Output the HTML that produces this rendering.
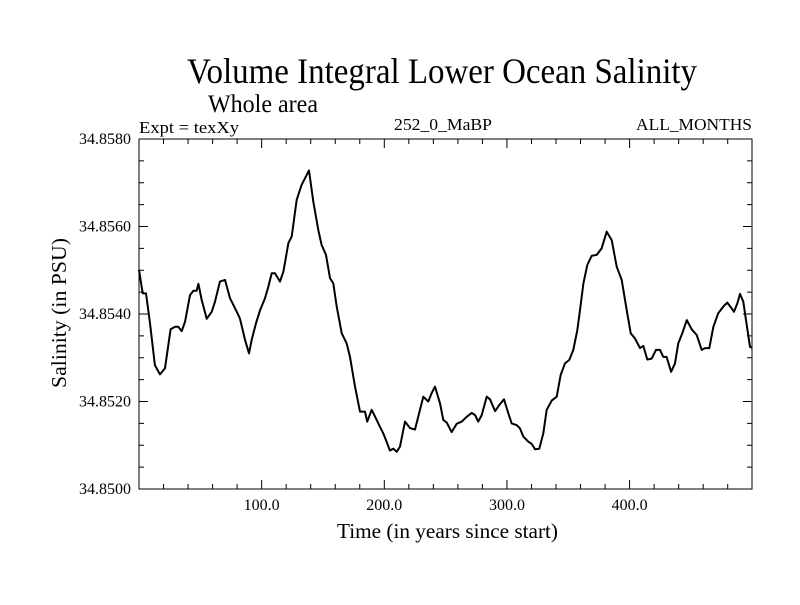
<!DOCTYPE html>
<html><head><meta charset="utf-8"><style>
body{margin:0;background:#fff}
svg text{font-family:"Liberation Serif",serif;fill:#000}
</style></head><body>
<svg id="chart" width="800" height="600" viewBox="0 0 800 600" xmlns="http://www.w3.org/2000/svg">
<rect width="800" height="600" fill="#fff"/>
<text x="187" y="83" font-size="36" textLength="510" lengthAdjust="spacingAndGlyphs">Volume Integral Lower Ocean Salinity</text>
<text x="208" y="112" font-size="25" textLength="110" lengthAdjust="spacingAndGlyphs">Whole area</text>
<text x="139" y="133" font-size="17" textLength="100" lengthAdjust="spacingAndGlyphs">Expt = texXy</text>
<text x="394" y="130" font-size="17" textLength="98" lengthAdjust="spacingAndGlyphs">252_0_MaBP</text>
<text x="636" y="130" font-size="17" textLength="116" lengthAdjust="spacingAndGlyphs">ALL_MONTHS</text>
<text x="337" y="538" font-size="21" textLength="221" lengthAdjust="spacingAndGlyphs">Time (in years since start)</text>
<text x="0" y="0" font-size="21" text-anchor="middle" textLength="150" lengthAdjust="spacingAndGlyphs" transform="translate(66,313) rotate(-90)">Salinity (in PSU)</text>
<g id="axes"></g>
<path id="series" fill="none" stroke="#000" stroke-width="2" stroke-linejoin="round"/>
<rect x="139" y="139" width="613" height="350" fill="none" stroke="#000" stroke-width="1"/>
</svg>
<script>
const years=[0,3,5.7,9,13,17.1,21.2,25.8,29.4,32,34.8,37.5,41.6,44.3,47,48.4,51.1,55.2,59.3,62,66,70.1,74.2,79.7,82.3,86.4,89.7,91.9,95.4,98.7,102.7,105.4,108.2,110.9,115,117.7,121.8,124.5,128.6,132.6,136.7,138.6,142.1,146.2,148.9,152.5,155.7,158.4,161.2,165.3,169.3,172,176.1,180.2,184.3,186.1,189.7,193.8,196.5,199.2,201.9,204.6,207.4,210.1,212.8,216.9,221,225,229.1,231.8,235.9,238.6,241.3,245.4,248.1,250.9,254.9,259,263.1,267.2,271.3,274,276.6,279.4,283.5,286.2,290.3,294.3,297.6,301.1,303.9,307.9,310.6,313.3,317.4,320.2,322.9,326.4,329.6,332.4,336.5,340.6,343.8,347.3,350.8,354.1,357.4,359.6,362.3,365.5,369.1,373.2,377.2,381.3,385.4,389.5,393.6,397.6,400.9,404.4,408.5,411.2,414.4,418,421.5,424.8,427.5,430.2,433.8,437,439.7,443,446.6,450.6,454.7,458.8,461.5,465,468.3,472.3,476.4,479.7,483.2,485.1,487.8,490,492.7,494.9,498.2,499.8];
const salinity=[34.85501,34.85447,34.85447,34.85379,34.85283,34.85262,34.85276,34.85365,34.85371,34.85371,34.85361,34.85382,34.85443,34.85453,34.85453,34.85469,34.85432,34.85389,34.85405,34.85428,34.85474,34.85478,34.85436,34.85405,34.8539,34.85341,34.8531,34.85341,34.85379,34.85409,34.85436,34.85462,34.85493,34.85493,34.85474,34.85497,34.85562,34.85577,34.85661,34.85695,34.85718,34.85728,34.85657,34.85592,34.85558,34.85535,34.85482,34.8547,34.85417,34.85356,34.85333,34.85302,34.85234,34.85177,34.85177,34.85154,34.85181,34.85158,34.85142,34.85127,34.85108,34.85088,34.85092,34.85085,34.85097,34.85154,34.85139,34.85136,34.85181,34.85211,34.852,34.85219,34.85234,34.85196,34.85158,34.85152,34.8513,34.85149,34.85154,34.85165,34.85174,34.85169,34.85154,34.85169,34.85211,34.85205,34.85178,34.85194,34.85205,34.85173,34.8515,34.85146,34.85139,34.8512,34.85108,34.85103,34.85091,34.85092,34.85127,34.85181,34.85202,34.85211,34.85261,34.85287,34.85295,34.85318,34.85363,34.85409,34.8547,34.85512,34.85533,34.85535,34.8555,34.85588,34.85569,34.85508,34.85478,34.85409,34.85356,34.85344,34.85322,34.85327,34.85296,34.85298,34.85318,34.85318,34.85302,34.85302,34.85268,34.85287,34.85333,34.85356,34.85386,34.85365,34.85352,34.85318,34.85322,34.85322,34.85371,34.85402,34.85417,34.85426,34.85413,34.85405,34.85424,34.85446,34.85428,34.85386,34.85325,34.85323];
const yTickVals=[34.850,34.852,34.854,34.856,34.858];
const yTickLabels=["34.8500","34.8520","34.8540","34.8560","34.8580"];
const xTickVals=[100,200,300,400];
const xTickLabels=["100.0","200.0","300.0","400.0"];

const L=139,R=752,T=139,B=489,X0=0,X1=499.8,Y0=34.850,Y1=34.858;
const sx=v=>L+(v-X0)/(X1-X0)*(R-L);
const sy=v=>B-(v-Y0)/(Y1-Y0)*(B-T);
const NS="http://www.w3.org/2000/svg";
const g=document.getElementById('axes');
function line(x1,y1,x2,y2){const l=document.createElementNS(NS,'line');l.setAttribute('x1',x1);l.setAttribute('y1',y1);l.setAttribute('x2',x2);l.setAttribute('y2',y2);l.setAttribute('stroke','#000');l.setAttribute('stroke-width','1');


g.appendChild(l);}
function text(x,y,s,anchor,name){const t=document.createElementNS(NS,'text');t.setAttribute('x',x);t.setAttribute('y',y);t.setAttribute('font-size','16');t.setAttribute('text-anchor',anchor);t.textContent=s;


g.appendChild(t);}
for(let v=Y0;v<=Y1+1e-9;v+=0.0005){const y=sy(v);const major=Math.abs(Math.round(v*1000)%2)===0&&Math.abs(v*1000-Math.round(v*1000))<1e-6;const len=major?9:5;line(L,y,L+len,y);line(R,y,R-len,y);}
yTickVals.forEach((v,i)=>text(L-8,sy(v)+5,yTickLabels[i],'end','y-tick-label'));
for(let v=20;v<X1;v+=20){const x=sx(v);const len=(v%100===0)?9:5;line(x,B,x,B-len);line(x,T,x,T+len);}
xTickVals.forEach((v,i)=>text(sx(v),B+21,xTickLabels[i],'middle','x-tick-label'));
let d='';years.forEach((v,i)=>{d+=(i?'L':'M')+sx(v).toFixed(1)+','+sy(salinity[i]).toFixed(1);});
document.getElementById('series').setAttribute('d',d);
</script>
</body></html>
